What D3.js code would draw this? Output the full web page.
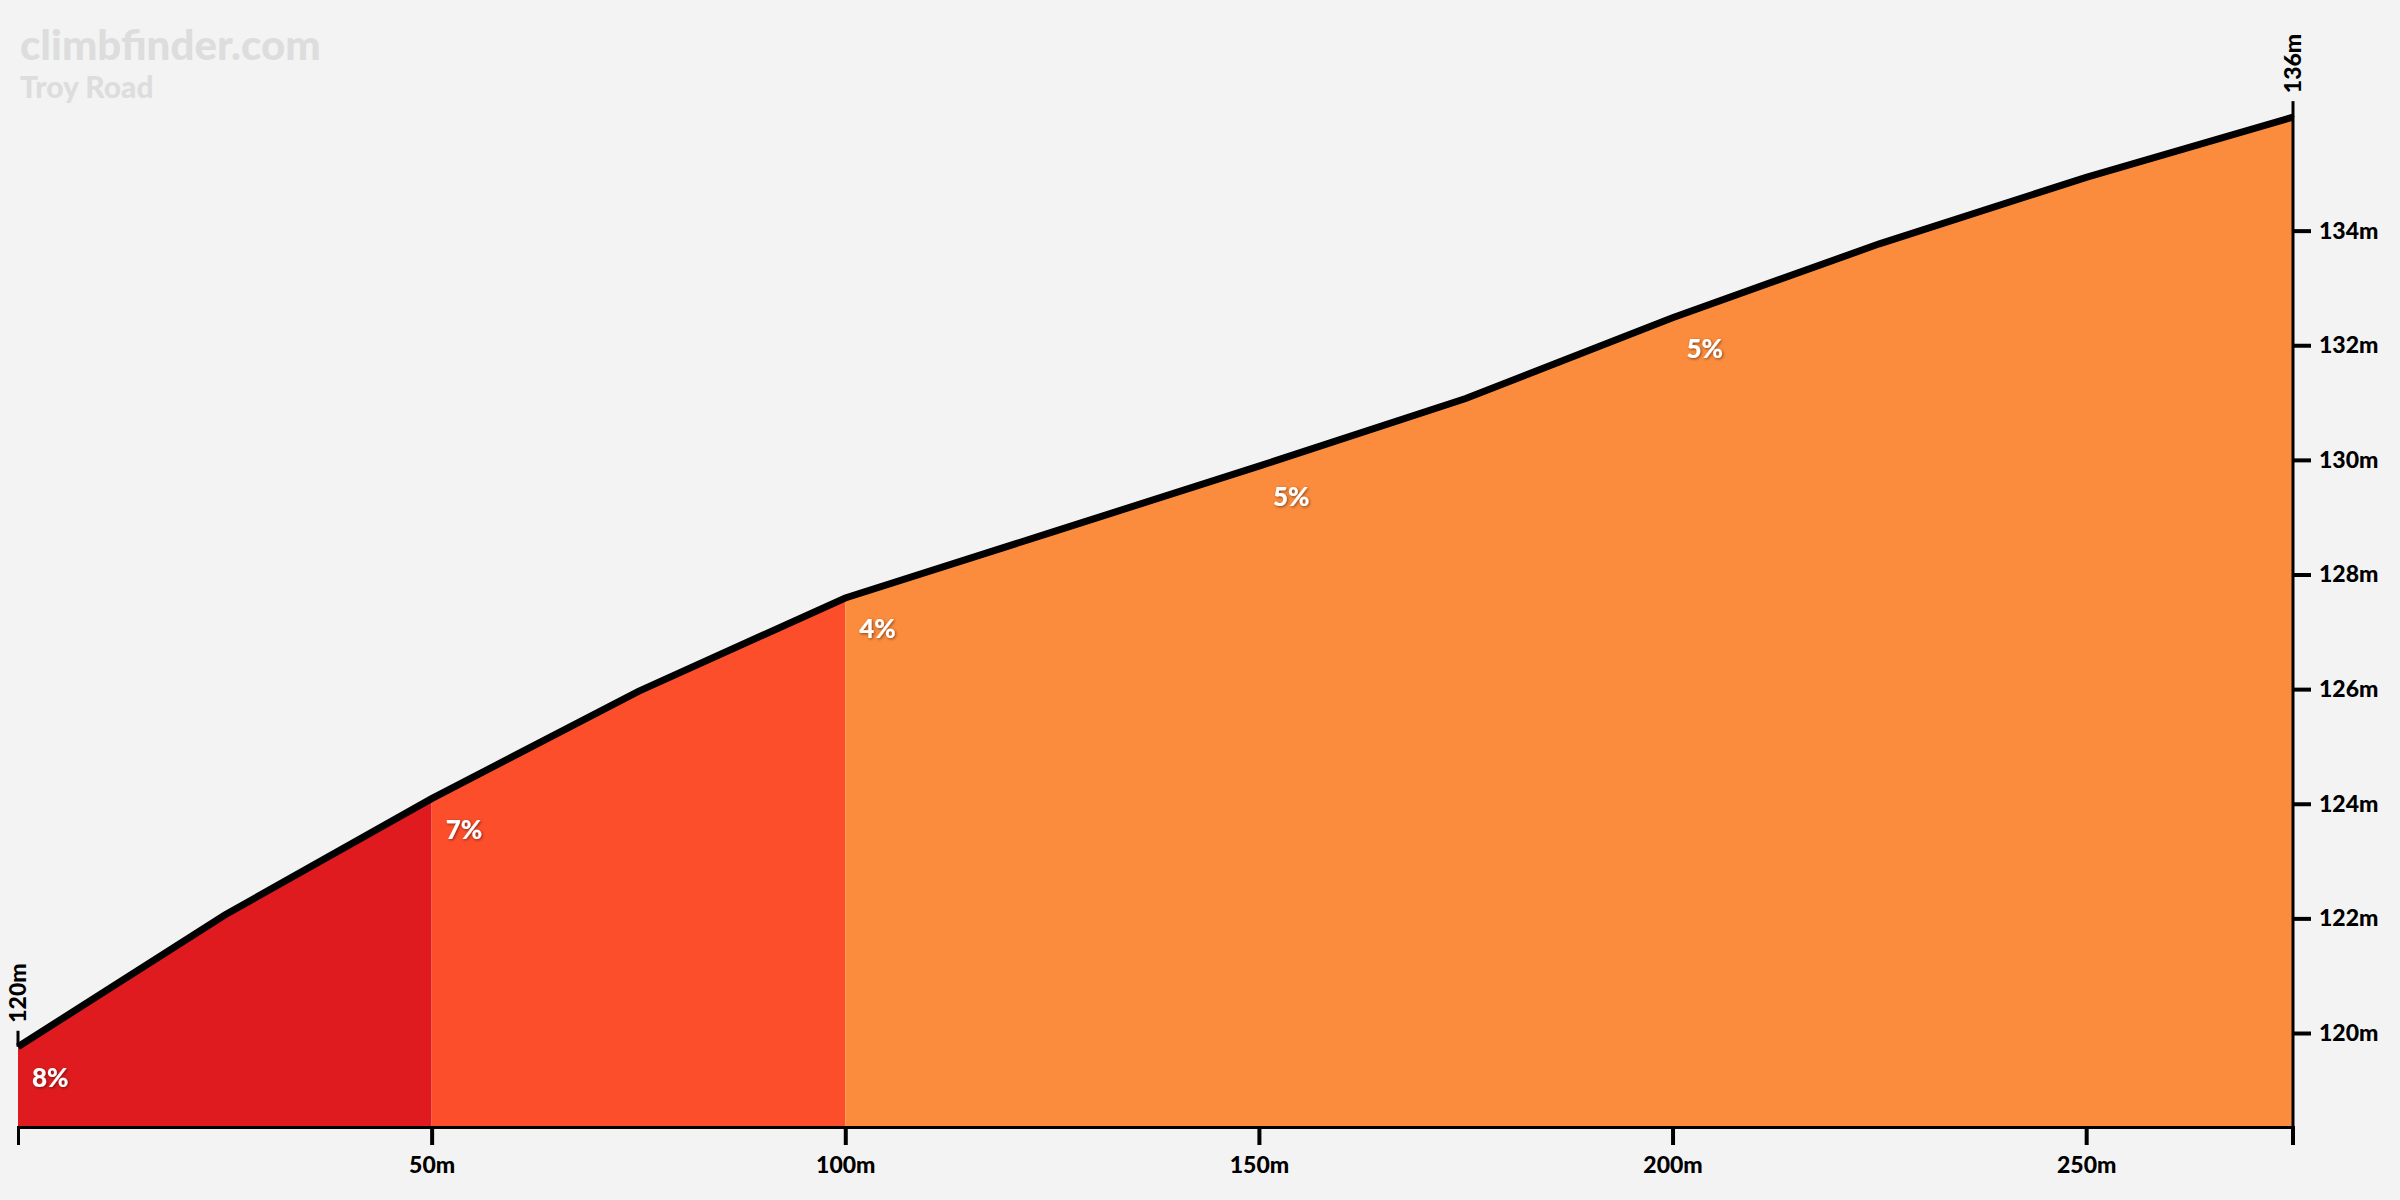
<!DOCTYPE html>
<html>
<head>
<meta charset="utf-8">
<script src="https://cdn.jsdelivr.net/npm/d3@7"></script>
<style>
  body { margin: 0; background: #f3f3f3; }
  text { font-family: "Lato", sans-serif; font-weight: 900; }
</style>
</head>
<body>
<svg id="svg" width="2400" height="1200"></svg>
<script>
const distances = [0, 25, 50, 75, 100, 125, 150, 175, 200, 225, 250, 275]
const elevations = [119.76, 122.06, 124.09, 125.96, 127.59, 128.74, 129.89, 131.07, 132.48, 133.77, 134.93, 135.98]

const segStarts = [0, 50, 100]
const segEnds = [50, 100, 275]
const segColors = ["#e01b1f", "#fd4e2c", "#fc8c3d"]

const gradeAt = [0, 50, 100, 150, 200]
const gradeLabels = ["8%", "7%", "4%", "5%", "5%"]

const xTicks = [50, 100, 150, 200, 250]
const yTicks = [120, 122, 124, 126, 128, 130, 132, 134]

const svg = d3.select("#svg")
const x = d3.scaleLinear().domain([0, 275]).range([18, 2293])
const y = d3.scaleLinear().domain([118.36, 136]).range([1127, 116])

const pts = distances.map((d, i) => [d, elevations[i]])
const elevAt = d => {
  const i = distances.indexOf(d)
  return i >= 0 ? elevations[i] : null
}

// coloured segments
const area = d3.area().x(d => x(d[0])).y0(y(118.36)).y1(d => y(d[1]))
segStarts.forEach((s, i) => {
  const part = pts.filter(p => p[0] >= s && p[0] <= segEnds[i])
  svg.append("path").attr("d", area(part)).attr("fill", segColors[i])
})

// profile line
svg.append("path")
  .attr("d", d3.line().x(d => x(d[0])).y(d => y(d[1]))(pts))
  .attr("fill", "none").attr("stroke", "#000").attr("stroke-width", 7)

// watermark
svg.append("text").attr("x", 20).attr("y", 60).attr("font-size", 42)
  .attr("fill", "#dddddd").text("climbfinder.com")
svg.append("text").attr("x", 20).attr("y", 98).attr("font-size", 30)
  .attr("fill", "#dddddd").text("Troy Road")

// grade labels
const filter = svg.append("defs").append("filter").attr("id", "sh")
filter.append("feDropShadow").attr("dx", 1).attr("dy", 1).attr("stdDeviation", 1.5)
  .attr("flood-color", "#000").attr("flood-opacity", 0.5)
svg.selectAll(".grade").data(gradeAt).enter().append("text")
  .attr("x", d => x(d) + 14)
  .attr("y", d => y(elevAt(d)) + 40)
  .attr("font-size", 26).attr("fill", "#fff").attr("filter", "url(#sh)")
  .text((d, i) => gradeLabels[i])

// x axis
const xAxis = svg.append("g").attr("transform", `translate(0,${y(118.36)})`)
  .call(d3.axisBottom(x).tickValues(xTicks).tickFormat(d => d + "m").tickSize(18).tickPadding(12))
xAxis.select(".domain").attr("stroke-width", 3)
xAxis.selectAll(".tick line").attr("stroke-width", 4)
xAxis.selectAll("text").attr("font-size", 23).attr("fill", "#000").attr("font-family", "Lato")
svg.append("line").attr("x1", x(275)).attr("x2", x(275))
  .attr("y1", y(118.36)).attr("y2", y(118.36) + 18).attr("stroke", "#000").attr("stroke-width", 4)

// y axis right
const yAxis = svg.append("g").attr("transform", `translate(${x(275)},0)`)
  .call(d3.axisRight(y).tickValues(yTicks).tickFormat(d => d + "m").tickSize(18).tickPadding(8))
yAxis.select(".domain").remove()
svg.append("line").attr("x1", x(275)).attr("x2", x(275))
  .attr("y1", y(136)).attr("y2", y(118.36)).attr("stroke", "#000").attr("stroke-width", 3)
yAxis.selectAll(".tick line").attr("stroke-width", 4)
yAxis.selectAll("text").attr("font-size", 23).attr("fill", "#000").attr("font-family", "Lato")

// start/end elevation labels
const ends = [[0, elevations[0], "120m"], [275, elevations[elevations.length - 1], "136m"]]
ends.forEach(e => {
  const ex = x(e[0]), ey = y(e[1])
  svg.append("line").attr("x1", ex).attr("x2", ex).attr("y1", ey).attr("y2", ey - 16)
    .attr("stroke", "#000").attr("stroke-width", 3)
  svg.append("text").attr("transform", `translate(${ex + 8},${ey - 24}) rotate(-90)`)
    .attr("font-size", 23).attr("fill", "#000").text(e[2])
})
</script>
</body>
</html>
